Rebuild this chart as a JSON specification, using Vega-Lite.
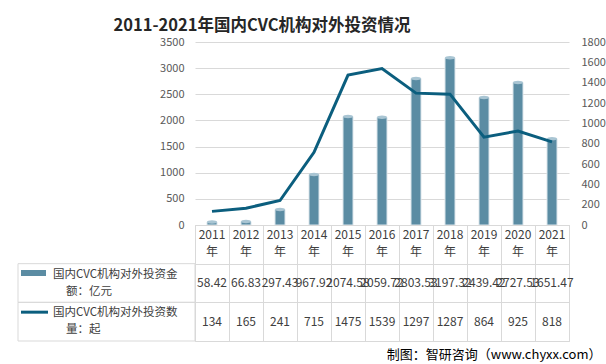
{
  "$schema": "https://vega.github.io/schema/vega-lite/v6.json",
  "background": "white",
  "padding": {"left": 17, "top": 17, "right": 0, "bottom": 0},
  "title": {"text": "2011-2021年国内CVC机构对外投资情况", "fontSize": 16.5, "fontWeight": "bold", "color": "#262626", "anchor": "start", "dx": 96, "offset": 2, "font": "Noto Sans CJK SC"},
  "datasets": {
    "main": [
      {"year": "2011", "amount": 58.42, "count": 134},
      {"year": "2012", "amount": 66.83, "count": 165},
      {"year": "2013", "amount": 297.43, "count": 241},
      {"year": "2014", "amount": 967.92, "count": 715},
      {"year": "2015", "amount": 2074.58, "count": 1475},
      {"year": "2016", "amount": 2059.72, "count": 1539},
      {"year": "2017", "amount": 2803.53, "count": 1297},
      {"year": "2018", "amount": 3197.32, "count": 1287},
      {"year": "2019", "amount": 2439.42, "count": 864},
      {"year": "2020", "amount": 2727.53, "count": 925},
      {"year": "2021", "amount": 1651.47, "count": 818}
    ],
    "legend": [
      {"key": "amount", "l1": "国内CVC机构对外投资金", "l2": "额：亿元"},
      {"key": "count", "l1": "国内CVC机构对外投资数", "l2": "量：起"}
    ]
  },
  "bounds": "flush",
  "columns": 2,
  "spacing": {"row": 0, "column": 0},
  "concat": [
    {
      "width": 177, "height": 183,
      "data": {"values": [{}]},
      "mark": {"type": "text", "text": ""},
      "encoding": {}
    },
    {
      "width": 374, "height": 183,
      "data": {"name": "main"},
      "encoding": {
        "x": {"field": "year", "type": "ordinal", "scale": {"paddingInner": 0, "paddingOuter": 0}, "axis": null}
      },
      "layer": [
        {
          "mark": {"type": "bar", "width": 10, "color": "#5b8ca3", "stroke": "#dbe5eb", "strokeWidth": 1},
          "encoding": {
            "y": {"field": "amount", "type": "quantitative", "scale": {"domain": [0, 3500], "nice": false},
              "axis": {"orient": "left", "title": null, "format": "d", "values": [0, 500, 1000, 1500, 2000, 2500, 3000, 3500], "grid": true, "gridColor": "#d9d9d9", "domain": false, "ticks": false, "labelPadding": 11, "labelColor": "#595959", "labelFontSize": 11}}
          }
        },
        {
          "mark": {"type": "point", "shape": "M -1 0 A 1 0.35 0 1 1 1 0 A 1 0.35 0 1 1 -1 0 Z", "filled": true, "size": 100, "color": "#a9c5d3", "opacity": 1},
          "encoding": {
            "y": {"field": "amount", "type": "quantitative", "scale": {"domain": [0, 3500], "nice": false}, "axis": null}
          }
        },
        {
          "mark": {"type": "line", "color": "#0b5e7e", "strokeWidth": 3},
          "encoding": {
            "y": {"field": "count", "type": "quantitative", "scale": {"domain": [0, 1800], "nice": false},
              "axis": {"orient": "right", "title": null, "format": "d", "values": [0, 200, 400, 600, 800, 1000, 1200, 1400, 1600, 1800], "grid": false, "domain": false, "ticks": false, "labelPadding": 12, "labelColor": "#595959", "labelFontSize": 11}}
          }
        }
      ],
      "resolve": {"scale": {"y": "independent"}}
    },
    {
      "width": 177, "height": 116,
      "data": {"name": "legend"},
      "encoding": {
        "y": {"field": "key", "type": "nominal", "scale": {"domain": ["year", "amount", "count"], "paddingInner": 0, "paddingOuter": 0}, "axis": null}
      },
      "layer": [
        {"mark": {"type": "rect", "fill": null, "stroke": "#d9d9d9", "strokeWidth": 1}},
        {"mark": {"type": "text", "align": "left", "dy": -8.5, "fontSize": 11.5, "color": "#404040"},
         "encoding": {"x": {"value": 35}, "text": {"field": "l1"}}},
        {"mark": {"type": "text", "align": "left", "dy": 8.5, "fontSize": 11.5, "color": "#404040"},
         "encoding": {"x": {"value": 48}, "text": {"field": "l2"}}},
        {"transform": [{"filter": "datum.key === 'amount'"}],
         "mark": {"type": "point", "shape": "M -1 -1.04 H 1 V -0.56 H -1 Z", "size": 625, "filled": true, "color": "#5b8ca3", "opacity": 1},
         "encoding": {"x": {"value": 15.5}}},
        {"transform": [{"filter": "datum.key === 'count'"}],
         "mark": {"type": "point", "shape": "M -1 -0.815 H 1 V -0.593 H -1 Z", "size": 729, "filled": true, "color": "#0b5e7e", "opacity": 1},
         "encoding": {"x": {"value": 16.5}}}
      ]
    },
    {
      "width": 374, "height": 116,
      "data": {"name": "main"},
      "view": {"stroke": "#d9d9d9"},
      "encoding": {
        "x": {"field": "year", "type": "ordinal", "scale": {"paddingInner": 0, "paddingOuter": 0},
          "axis": {"grid": true, "tickBand": "extent", "labels": false, "ticks": false, "domain": false, "gridColor": "#d9d9d9",
            "title": "制图：智研咨询（www.chyxx.com）", "titleX": 406, "titleY": 13, "titleAlign": "right", "titleBaseline": "middle", "titleFontSize": 13, "titleFontWeight": "normal", "titleColor": "#000000"}}
      },
      "layer": [
        {
          "transform": [{"fold": ["amount", "count"], "as": ["key", "value"]}],
          "mark": {"type": "text", "fontSize": 12, "color": "#404040"},
          "encoding": {
            "y": {"field": "key", "type": "nominal", "scale": {"domain": ["year", "amount", "count"], "paddingInner": 0, "paddingOuter": 0},
              "axis": {"grid": true, "tickBand": "extent", "labels": false, "ticks": false, "domain": false, "gridColor": "#d9d9d9", "title": null}},
            "text": {"field": "value", "type": "nominal"}
          }
        },
        {
          "mark": {"type": "text", "fontSize": 12, "color": "#404040", "dy": -9},
          "encoding": {
            "y": {"datum": "year", "type": "nominal"},
            "text": {"field": "year", "type": "nominal"}
          }
        },
        {
          "mark": {"type": "text", "fontSize": 12, "color": "#404040", "dy": 8, "text": "年"},
          "encoding": {
            "y": {"datum": "year", "type": "nominal"}
          }
        }
      ]
    }
  ],
  "config": {
    "font": "Noto Sans CJK SC",
    "view": {"stroke": null}
  }
}
